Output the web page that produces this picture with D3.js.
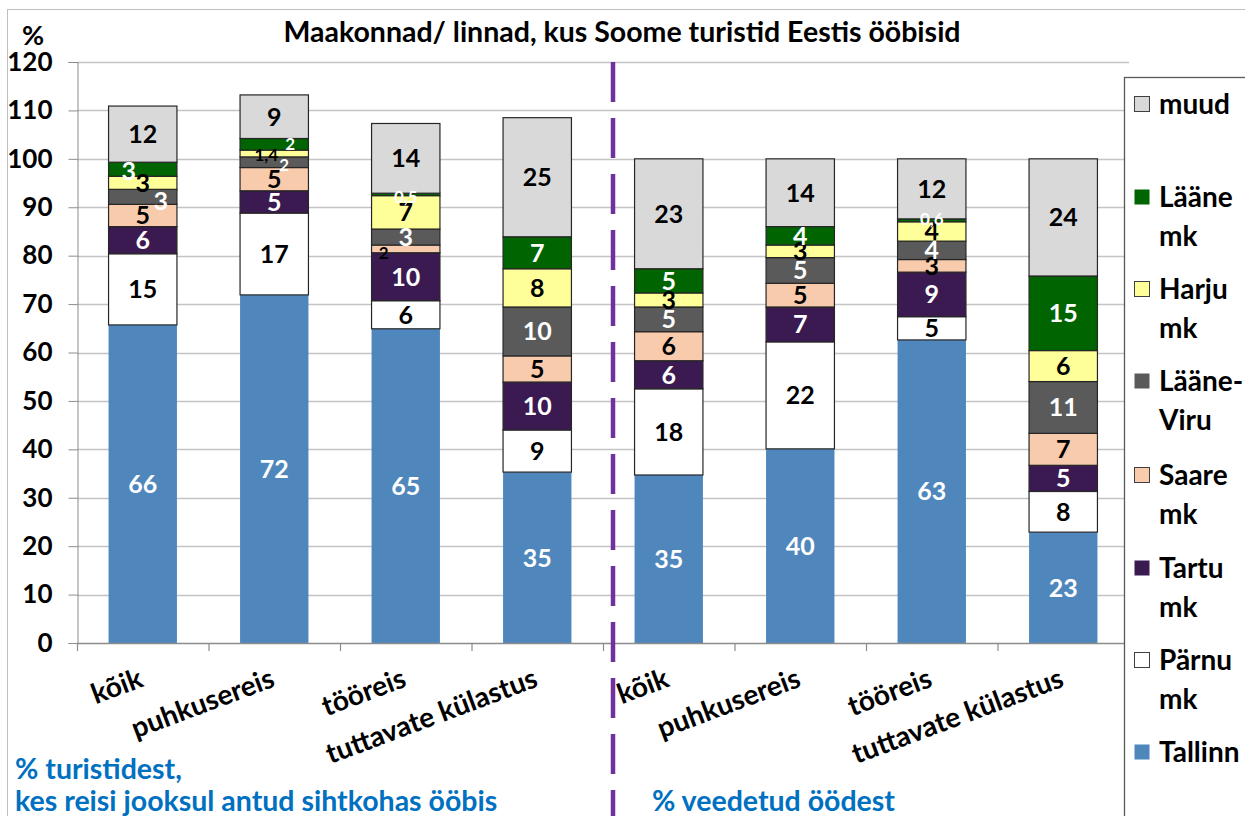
<!DOCTYPE html>
<html>
<head>
<meta charset="utf-8">
<script src="https://cdn.jsdelivr.net/npm/d3@7"></script>
<style>
  html, body { margin: 0; padding: 0; background: #fff; }
  svg { display: block; }
  text { font-family: Lato, "Open Sans", "Liberation Sans", sans-serif; font-weight: 700; }
</style>
</head>
<body>
<svg id="chart" width="1245" height="816"></svg>
<script>
// ---------- data ----------
const categories = ["kõik", "puhkusereis", "tööreis", "tuttavate külastus",
                    "kõik", "puhkusereis", "tööreis", "tuttavate külastus"];
const seriesNames = ["Tallinn", "Pärnu mk", "Tartu mk", "Saare mk", "Lääne-Viru", "Harju mk", "Lääne mk", "muud"];
const legendLabels = [["Tallinn"], ["Pärnu", "mk"], ["Tartu", "mk"], ["Saare", "mk"], ["Lääne-", "Viru"], ["Harju", "mk"], ["Lääne", "mk"], ["muud"]];
const tallinn   = [65.7, 71.9, 64.9, 35.3, 34.7, 40.1, 62.6, 22.9];
const parnu     = [14.7, 16.9,  5.8,  8.7, 17.8, 22.1,  4.8,  8.4];
const tartu     = [ 5.6,  4.6,  9.9,  9.9,  5.8,  7.2,  9.2,  5.4];
const saare     = [ 4.6,  4.8,  1.6,  5.4,  6.0,  4.9,  2.6,  6.6];
const laaneViru = [ 3.1,  2.2,  3.3, 10.1,  5.1,  5.3,  3.8, 10.7];
const harju     = [ 2.7,  1.4,  6.9,  7.9,  2.9,  2.6,  4.0,  6.4];
const laane     = [ 2.9,  2.4,  0.5,  6.6,  5.0,  3.8,  0.6, 15.4];
const muud      = [11.6,  9.0, 14.4, 24.6, 22.7, 14.0, 12.4, 24.2];
const yTicks = [0, 10, 20, 30, 40, 50, 60, 70, 80, 90, 100, 110, 120];
const title = "Maakonnad/ linnad, kus Soome turistid Eestis ööbisid";
const noteLeft = ["% turistidest,", "kes reisi jooksul antud sihtkohas ööbis"];
const noteRight = "% veedetud öödest";

// ---------- styles ----------
const colors = ["#4F87BD", "#FFFFFF", "#3B1A52", "#F9CBAD", "#5A5A5A", "#FFFF99", "#006400", "#D9D9D9"];
const labelColors = ["#fff", "#000", "#fff", "#000", "#fff", "#000", "#fff", "#000"];
// manual label nudges (like the hand-placed labels of the original)
const labelNudge = {"0-6": [-14, 2], "0-4": [18, 4], "1-6": [16, 0], "1-4": [10, 3], "1-5": [-8, 1], "2-3": [-22, 4], "2-6": [0, 2], "6-6": [0, -1]};

const seriesData = [tallinn, parnu, tartu, saare, laaneViru, harju, laane, muud];
const svg = d3.select("#chart");

const plot = {left: 77, right: 1129, top: 62, bottom: 643};

// outer chart border
svg.append("rect").attr("x", 7.5).attr("y", 9.5).attr("width", 1260).attr("height", 830)
  .attr("fill", "none").attr("stroke", "#BFBFBF").attr("stroke-width", 1);

const x = d3.scaleBand().domain(d3.range(categories.length))
  .range([plot.left, plot.right]).paddingInner(0.48).paddingOuter(0.24);
const y = d3.scaleLinear().domain([0, 120]).range([plot.bottom, plot.top]);

// gridlines
svg.append("g").selectAll("line").data(yTicks.filter(d => d > 0)).join("line")
  .attr("x1", plot.left).attr("x2", plot.right)
  .attr("y1", d => Math.round(y(d)) + 0.5).attr("y2", d => Math.round(y(d)) + 0.5)
  .attr("stroke", "#C4C4C4").attr("stroke-width", 1.3);

// y axis
const yAxis = svg.append("g").attr("transform", `translate(${plot.left + 0.5},0)`)
  .call(d3.axisLeft(y).tickValues(yTicks).tickSize(9).tickPadding(16));
yAxis.select(".domain").attr("stroke", "#8C8C8C");
yAxis.selectAll(".tick line").attr("stroke", "#8C8C8C");
yAxis.selectAll(".tick text").attr("font-size", 26).attr("fill", "#000")
  .attr("font-family", "Lato, 'Open Sans', sans-serif").attr("font-weight", 700);

// stacked bars
const table = categories.map((c, i) => {
  const row = {i};
  seriesNames.forEach((s, k) => row[s] = seriesData[k][i]);
  return row;
});
const stack = d3.stack().keys(seriesNames)(table);

const bars = svg.append("g");
stack.forEach((layer, k) => {
  bars.append("g").selectAll("rect").data(layer).join("rect")
    .attr("x", d => x(d.data.i))
    .attr("width", x.bandwidth())
    .attr("y", d => y(d[1]))
    .attr("height", d => y(d[0]) - y(d[1]))
    .attr("fill", colors[k])
    .attr("stroke", k === 0 ? "none" : "#262626")
    .attr("stroke-width", k === 0 ? 0 : 1.2);
});

// x axis line and ticks
svg.append("line").attr("x1", plot.left).attr("x2", plot.right)
  .attr("y1", plot.bottom + 0.5).attr("y2", plot.bottom + 0.5)
  .attr("stroke", "#8C8C8C").attr("stroke-width", 1.3);
const step = x.step();
svg.append("g").selectAll("line").data(d3.range(categories.length + 1)).join("line")
  .attr("x1", i => plot.left + i * step + 0.5).attr("x2", i => plot.left + i * step + 0.5)
  .attr("y1", plot.bottom).attr("y2", plot.bottom + 8)
  .attr("stroke", "#8C8C8C").attr("stroke-width", 1.2);

// labels in bars
const fmt = v => v < 1.5 ? d3.format(".1f")(v).replace(".", ",") : String(Math.round(v));
const labels = svg.append("g");
stack.forEach((layer, k) => {
  layer.forEach(d => {
    const v = d[1] - d[0];
    const key = d.data.i + "-" + k;
    const nudge = labelNudge[key] || [0, 0];
    const small = v < 2.5;
    labels.append("text")
      .attr("x", x(d.data.i) + x.bandwidth() / 2 + nudge[0])
      .attr("y", (y(d[0]) + y(d[1])) / 2 + nudge[1])
      .attr("dy", "0.36em")
      .attr("text-anchor", "middle")
      .attr("font-size", small ? 17 : 25)
      .attr("fill", labelColors[k])
      .text(fmt(v));
  });
});

// category labels (rotated)
svg.append("g").selectAll("text").data(categories).join("text")
  .attr("transform", (c, i) => `translate(${x(i) + x.bandwidth() / 2 + 2},${plot.bottom + 43}) rotate(-20.5)`)
  .attr("text-anchor", "end")
  .attr("font-size", 28)
  .attr("fill", "#000")
  .text(c => c);

// dashed separator
svg.append("line").attr("x1", 613).attr("x2", 613).attr("y1", plot.top).attr("y2", 816)
  .attr("stroke", "#7030A0").attr("stroke-width", 4.5).attr("stroke-dasharray", "40,16");

// title and unit
svg.append("text").attr("x", 622).attr("y", 42).attr("text-anchor", "middle")
  .attr("font-size", 28.5).attr("fill", "#000").text(title);
svg.append("text").attr("x", 33).attr("y", 45).attr("text-anchor", "middle")
  .attr("font-size", 27).attr("fill", "#000").text("%");

// notes
svg.append("text").attr("x", 15).attr("y", 779).attr("font-size", 28.5).attr("fill", "#0070C0").text(noteLeft[0]);
svg.append("text").attr("x", 15).attr("y", 811).attr("font-size", 28.5).attr("fill", "#0070C0").text(noteLeft[1]);
svg.append("text").attr("x", 652).attr("y", 811).attr("font-size", 28.5).attr("fill", "#0070C0").text(noteRight);

// legend
svg.append("rect").attr("x", 1124.5).attr("y", 77.5).attr("width", 200).attr("height", 800)
  .attr("fill", "#fff").attr("stroke", "#595959").attr("stroke-width", 1.3);
const legendTop = [104, 197, 289, 381, 475, 568, 660, 752]; // top-to-bottom order rows
const legendOrder = d3.range(seriesNames.length).reverse();
const lg = svg.append("g");
legendOrder.forEach((k, r) => {
  const yy = legendTop[r];
  lg.append("rect").attr("x", 1134.5).attr("y", yy - 7.5).attr("width", 15).attr("height", 15)
    .attr("fill", colors[k]).attr("stroke", (k === 0 || k === 2 || k === 4 || k === 6) ? "none" : "#404040")
    .attr("stroke-width", 1);
  legendLabels[k].forEach((line, j) => {
    lg.append("text").attr("x", 1159).attr("y", yy + j * 39).attr("dy", "0.36em")
      .attr("font-size", 28).attr("fill", "#000").text(line);
  });
});
</script>
</body>
</html>
